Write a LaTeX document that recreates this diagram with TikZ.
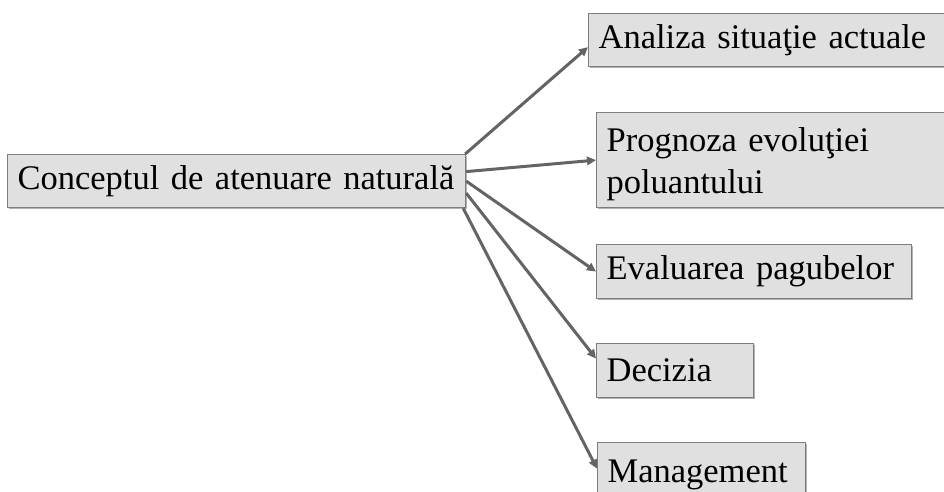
\documentclass[tikz,border=0pt]{standalone}
\usepackage{fontspec}
\setmainfont{Liberation Serif}
\usetikzlibrary{arrows.meta,shadows}
\definecolor{boxfill}{RGB}{224,224,224}
\definecolor{boxline}{RGB}{125,125,125}
\definecolor{arrowc}{RGB}{100,100,100}
\begin{document}
\begin{tikzpicture}[x=1pt,y=-1pt,
  box/.style={draw=boxline, line width=1.2pt, fill=boxfill, anchor=north west,
    inner xsep=10pt, inner ysep=0pt, align=left,
    font=\fontsize{34.5}{42}\selectfont,
    drop shadow={shadow xshift=1.5pt, shadow yshift=-1.5pt, opacity=0.3, fill=black}},
  conn/.style={draw=arrowc, line width=3pt, -{Triangle[length=9pt,width=8.5pt]}}]
\useasboundingbox (0,0) rectangle (944,491);
\clip (0,0) rectangle (944,491);
\node[box, minimum width=458pt, minimum height=53pt, text width=438pt] (main) at (7,154) {\mbox{Conceptul de atenuare naturală}};
\node[box, minimum width=360pt, minimum height=53pt, text width=340pt] (a1) at (588,13) {\mbox{Analiza situaţie actuale}};
\node[box, minimum width=352pt, minimum height=95pt, text width=332pt] (a2) at (596,112) {\rule{0pt}{32pt}Prognoza evoluţiei\\poluantului};
\node[box, minimum width=315pt, minimum height=54pt, text width=295pt] (a3) at (596,244) {\mbox{Evaluarea pagubelor}};
\node[box, minimum width=157pt, minimum height=54pt, text width=137pt] (a4) at (596,343) {\mbox{Decizia}};
\node[box, minimum width=208pt, minimum height=56pt, text width=188pt] (a5) at (597,442) {\mbox{\rule{0pt}{32pt}Management}};
\draw[conn] ([xshift=-1pt]main.north east) -- ([yshift=-7pt]a1.west);
\draw[conn] ([yshift=9.5pt]main.east) -- (a2.west);
\draw[conn] (main.east) -- (a3.west);
\draw[conn] ([yshift=-12pt]main.east) -- ([yshift=12pt]a4.west);
\draw[conn] ([xshift=-3pt]main.south east) -- ([yshift=2pt]a5.west);
\end{tikzpicture}
\end{document}
